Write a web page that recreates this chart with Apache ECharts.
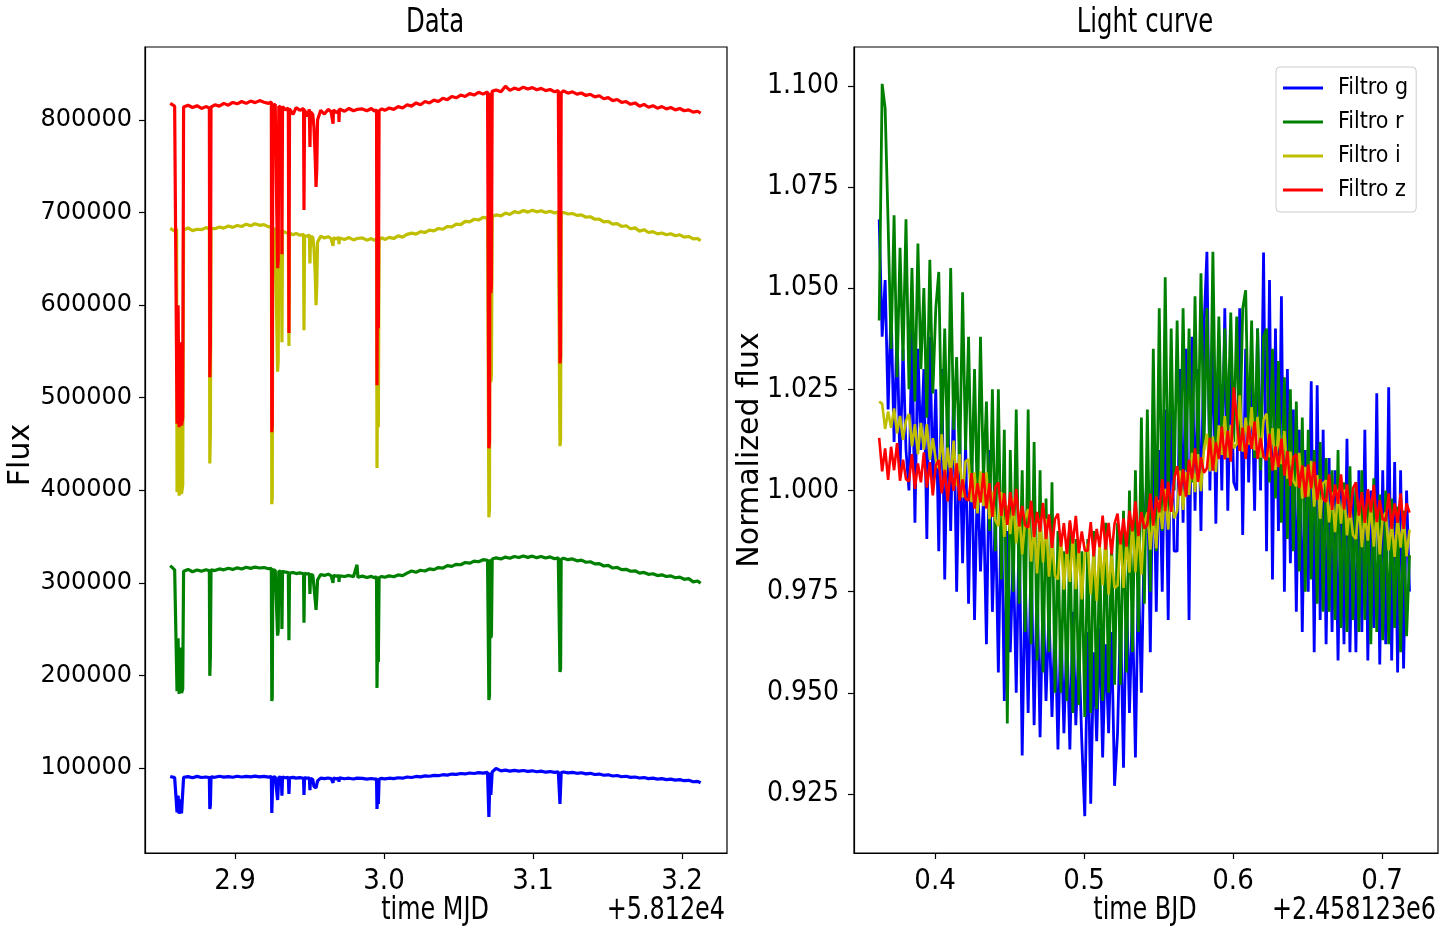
<!DOCTYPE html>
<html><head><meta charset="utf-8">
<script src="https://cdn.jsdelivr.net/npm/echarts@6/dist/echarts.min.js"></script>
<style>html,body{margin:0;padding:0;background:#fff;}#c{width:1454px;height:932px;}</style>
</head><body><div id="c"></div>
<script>
// ---------- Left panel: raw flux vs time MJD (offset +5.812e4) ----------
const mjdTime = [
2.8565,2.8595,2.8608,2.8611,2.8618,2.8625,2.8633,2.8641,2.8649,2.8655,
2.8685,2.8715,2.8745,2.8775,2.8805,2.8828,2.8831,2.8835,2.8839,2.8865,
2.8895,2.8925,2.8955,2.8985,2.9015,2.9045,2.9075,2.9105,2.9135,2.9165,
2.9195,2.9225,2.9244,2.9247,2.9250,2.9254,2.9270,2.9283,2.9286,2.9290,
2.9294,2.9311,2.9315,2.9319,2.9340,2.9358,2.9362,2.9366,2.9390,2.9410,
2.9435,2.9460,2.9463,2.9467,2.9485,2.9499,2.9503,2.9507,2.9522,2.9530,
2.9538,2.9544,2.9549,2.9554,2.9575,2.9600,2.9625,2.9645,2.9656,2.9658,
2.9661,2.9680,2.9696,2.9698,2.9701,2.9735,2.9765,2.9795,2.9819,2.9825,
2.9855,2.9885,2.9915,2.9935,2.9950,2.9953,2.9958,2.9962,2.9967,2.9985,
3.0005,3.0035,3.0065,3.0095,3.0125,3.0155,3.0185,3.0215,3.0245,3.0275,
3.0305,3.0335,3.0365,3.0395,3.0425,3.0455,3.0485,3.0515,3.0545,3.0575,
3.0605,3.0635,3.0665,3.0695,3.0701,3.0704,3.0708,3.0712,3.0717,3.0721,
3.0726,3.0752,3.0785,3.0815,3.0845,3.0875,3.0905,3.0935,3.0965,3.0995,
3.1025,3.1055,3.1085,3.1115,3.1145,3.1170,3.1178,3.1181,3.1185,3.1189,
3.1205,3.1235,3.1265,3.1295,3.1325,3.1355,3.1385,3.1415,3.1445,3.1475,
3.1505,3.1535,3.1565,3.1595,3.1625,3.1655,3.1685,3.1715,3.1745,3.1775,
3.1805,3.1835,3.1865,3.1895,3.1925,3.1955,3.1985,3.2015,3.2045,3.2075,
3.2105,3.2125];

const rawFluxZ = [
818000,815000,816500,472000,600000,468000,560000,470000,478000,814000,
816000,813500,815500,812500,814500,813000,522000,560000,814000,816500,
815000,818000,816000,819000,817500,820000,818000,820500,818800,821000,
819200,818000,819500,462700,470000,816000,817000,815500,640000,648000,
815000,813500,655000,814500,811000,813000,570000,812000,806000,813500,
810500,812500,702700,811000,804000,811500,770800,809000,806000,792000,
760000,727600,748000,800000,810500,806500,811500,809000,810500,796000,
811000,808000,810000,798000,812000,809500,812500,810000,811500,809500,
812000,810000,812500,809800,811000,513500,690000,575000,810000,812000,
810500,813000,811500,814500,813000,816500,815000,818500,816500,820000,
818500,821500,820000,823500,822000,825500,824000,827000,825500,828500,
827000,830000,828000,830500,829000,445400,452000,829500,613000,620000,
831000,832500,830500,836500,832000,834500,832800,835500,833500,835000,
832800,834200,831800,833000,830500,832000,830800,537000,545000,829500,
831500,829000,830500,828000,829200,826500,827800,825000,826200,823000,
824200,821000,822200,819000,820000,817000,818500,815000,816800,813800,
815500,812800,814500,812000,813500,811000,812500,810000,811000,808500,
809500,807500];

const rawFluxI = [
683000,680000,682500,398000,520000,394000,480000,396000,405000,681000,
683500,680500,682000,681500,683800,682200,429000,465000,683000,682600,
684500,683200,685500,684000,686000,685000,687500,685800,688000,686200,
687000,684500,685500,384900,392000,683000,682000,681000,528000,540000,
680500,679000,560000,680000,678500,677500,556000,678000,676000,677500,
675500,676500,573000,675000,674500,676000,645000,674000,673500,662000,
635000,600000,622000,668000,674500,672500,674000,672000,673000,664000,
672800,671500,673200,666000,672500,671000,673000,670500,672000,670800,
672600,670200,672000,670000,671500,424000,560000,468000,670500,672800,
671000,673200,672000,674800,673500,676500,677800,676800,679500,678500,
681000,680200,682800,682000,685000,684500,687500,687000,690500,690000,
692800,692000,694800,694000,695500,370800,380000,696000,516800,525000,
695800,697500,696500,699500,698000,701000,699800,702200,700500,702500,
700800,702000,700000,701500,699500,700800,699800,447600,455000,699000,
700200,698500,699000,697000,697500,695000,695500,692800,693000,690000,
690500,687500,688000,685000,685800,682500,683500,680000,681500,678500,
679500,677000,678000,676000,677200,675000,676000,673500,674200,671500,
672000,669500];

const rawFluxR = [
318500,314000,313500,183000,240000,180000,230000,181000,185000,312500,
314500,312000,313800,312600,314200,313000,199500,222000,314000,313200,
315000,314000,315800,314500,316200,315000,316800,315600,317000,316000,
316500,315200,315800,172400,176000,314000,313500,313000,243000,248000,
312800,312000,250000,312500,311500,311000,238000,310500,311200,310000,
310800,309800,256800,310200,309500,310000,288000,309000,308500,296000,
282000,270800,285000,303000,309000,308000,309200,307800,308500,300000,
308200,307000,308000,301000,307600,306800,308000,306500,319500,306000,
307200,305800,307000,305500,306500,186500,255000,214600,305800,306800,
306000,307500,306500,308500,307800,310500,312800,311500,313600,312800,
315000,314200,316500,315800,318500,317800,320000,319500,322000,321200,
323500,322800,325000,324200,325200,173500,178000,325500,240500,244000,
325800,327000,325800,327800,326500,328500,327300,329000,327500,328800,
327200,328400,326800,328000,326000,327000,326200,203800,207000,325500,
326500,325000,325800,323800,324500,322200,322800,320500,320800,318200,
318800,316000,316600,314200,314600,312500,313000,310500,311200,309200,
309800,307800,308600,306800,307500,305500,306200,303800,304500,301000,
302000,299500];

const rawFluxG = [
90800,89500,90500,52000,70000,50500,66000,51000,53000,89800,
90600,89400,90900,89700,90200,89600,55700,60000,90400,89900,
91000,90100,90700,89900,91000,90200,90900,90400,91200,90300,
90900,90000,90600,51400,52500,89800,90300,89700,65400,67000,
90000,89500,70000,90100,89400,89900,71900,89300,89800,89000,
89600,88900,70800,89500,88800,89300,76000,88600,87500,80000,
78800,78400,80500,86000,89000,88400,89100,88500,88900,84000,
89000,88200,88800,85000,89200,88300,88900,88000,89000,88400,
88800,87900,88600,88000,88300,55700,74000,61000,88000,88700,
88100,88900,88400,89400,88900,90200,89700,90800,90300,91400,
91000,92000,91600,92700,92300,93400,93000,94000,93500,94500,
94000,95000,94400,95200,94700,47000,49000,95000,70800,72000,
95600,99500,96800,97600,96500,97400,96600,97200,96300,96900,
95900,96500,95400,96100,95200,95800,95300,61000,62500,95000,
95600,94700,95200,94200,94800,93600,94200,92900,93400,92100,
92600,91300,91800,90500,91000,89800,90200,89100,89600,88500,
89000,87900,88400,87400,87900,86900,87400,86200,86600,85100,
85500,84000];

// ---------- Right panel: normalized flux vs time BJD (offset +2.458123e6) ----------
const bjdTime = [
0.3625,0.3645,0.3665,0.3685,0.3705,0.3725,0.3745,0.3765,0.3785,0.3805,
0.3825,0.3845,0.3865,0.3885,0.3905,0.3925,0.3945,0.3965,0.3985,0.4005,
0.4025,0.4045,0.4065,0.4085,0.4105,0.4125,0.4145,0.4165,0.4185,0.4205,
0.4225,0.4245,0.4265,0.4285,0.4305,0.4325,0.4345,0.4365,0.4385,0.4405,
0.4425,0.4445,0.4465,0.4485,0.4505,0.4525,0.4545,0.4565,0.4585,0.4605,
0.4625,0.4645,0.4665,0.4685,0.4705,0.4725,0.4745,0.4765,0.4785,0.4805,
0.4825,0.4845,0.4865,0.4885,0.4905,0.4925,0.4945,0.4965,0.4985,0.5005,
0.5025,0.5045,0.5065,0.5085,0.5105,0.5125,0.5145,0.5165,0.5185,0.5205,
0.5225,0.5245,0.5265,0.5285,0.5305,0.5325,0.5345,0.5365,0.5385,0.5405,
0.5425,0.5445,0.5465,0.5485,0.5505,0.5525,0.5545,0.5565,0.5585,0.5605,
0.5625,0.5645,0.5665,0.5685,0.5705,0.5725,0.5745,0.5765,0.5785,0.5805,
0.5825,0.5845,0.5865,0.5885,0.5905,0.5925,0.5945,0.5965,0.5985,0.6005,
0.6025,0.6045,0.6065,0.6085,0.6105,0.6125,0.6145,0.6165,0.6185,0.6205,
0.6225,0.6245,0.6265,0.6285,0.6305,0.6325,0.6345,0.6365,0.6385,0.6405,
0.6425,0.6445,0.6465,0.6485,0.6505,0.6525,0.6545,0.6565,0.6585,0.6605,
0.6625,0.6645,0.6665,0.6685,0.6705,0.6725,0.6745,0.6765,0.6785,0.6805,
0.6825,0.6845,0.6865,0.6885,0.6905,0.6925,0.6945,0.6965,0.6985,0.7005,
0.7025,0.7045,0.7065,0.7085,0.7105,0.7125,0.7145,0.7165,0.7185];

const normG = [
1.067,1.038,1.052,1.020,1.045,1.012,1.040,1.005,1.035,1.010,
1.000,1.040,0.992,1.035,1.010,1.030,0.988,1.038,1.002,1.025,
0.985,1.030,0.978,1.020,0.990,1.025,0.975,1.015,0.982,1.012,
0.972,1.012,0.968,1.005,0.980,0.998,0.962,1.010,0.970,0.995,
0.955,0.998,0.948,0.990,0.960,0.985,0.950,0.992,0.9345,0.980,
0.945,0.985,0.942,0.978,0.939,0.975,0.948,0.970,0.944,0.968,
0.936,0.968,0.940,0.965,0.936,0.970,0.942,0.962,0.938,0.9195,
0.965,0.9226,0.960,0.938,0.966,0.934,0.962,0.940,0.965,0.927,
0.940,0.970,0.9315,0.975,0.945,0.972,0.934,0.980,0.950,0.990,
1.006,0.960,1.015,0.970,1.010,0.975,1.020,0.968,1.025,0.985,
0.985,1.030,0.992,1.035,0.968,1.038,0.995,1.030,0.990,1.040,
1.059,1.000,1.040,0.9918,1.035,1.000,1.045,0.995,1.030,1.002,
1.000,1.045,0.989,1.035,1.002,1.030,0.995,1.040,1.000,1.0588,
0.985,1.052,0.978,1.040,0.990,1.048,0.975,1.030,0.982,1.020,
0.970,1.015,0.965,1.010,0.975,1.027,0.960,1.026,0.968,1.015,
0.962,1.008,0.965,1.005,0.958,1.002,0.962,1.0128,0.960,1.000,
0.960,1.005,0.965,1.015,0.958,1.000,0.966,1.024,0.957,1.005,
0.962,1.0255,0.958,1.007,0.955,1.005,0.956,1.000,0.975];

const normR = [
1.042,1.1005,1.0945,1.066,1.035,1.068,1.028,1.060,1.032,1.067,
1.025,1.055,1.022,1.061,1.030,1.050,1.018,1.057,1.024,1.045,
1.054,1.012,1.040,1.008,1.055,1.015,1.033,1.005,1.049,1.010,
1.038,1.000,1.030,0.995,1.038,1.002,1.022,0.990,1.025,0.985,
1.025,0.978,1.015,0.9424,1.010,0.975,1.020,0.972,1.005,0.965,
1.020,0.962,1.012,0.958,1.005,0.955,0.998,0.960,1.002,0.950,
0.990,0.950,0.985,0.948,0.992,0.945,0.988,0.947,0.985,0.944,
0.988,0.945,0.990,0.946,0.985,0.948,0.992,0.950,0.988,0.952,
0.992,0.952,0.995,0.955,1.000,0.960,1.005,0.965,1.018,0.972,
1.020,0.975,1.035,0.985,1.045,0.990,1.0527,0.995,1.040,1.000,
1.042,1.000,1.045,1.005,1.040,1.002,1.048,1.008,1.0537,1.010,
1.045,1.008,1.059,1.010,1.043,1.012,1.040,1.015,1.044,1.012,
1.043,1.010,1.045,1.0495,1.012,1.042,1.008,1.040,1.005,1.038,
1.040,1.002,1.035,0.998,1.032,0.992,1.028,0.988,1.025,0.985,
1.022,0.980,1.018,0.975,1.015,0.978,1.010,0.972,1.012,0.970,
1.008,0.970,1.005,0.968,1.010,0.966,1.002,0.965,1.006,0.968,
1.002,0.965,1.005,0.968,0.998,0.962,1.003,0.965,0.999,0.963,
1.000,0.962,0.998,0.966,0.996,0.960,0.995,0.964,0.984];

const normI = [
1.0220,1.0214,1.0152,1.0195,1.0155,1.0203,1.0141,1.0184,1.0125,1.0173,
1.0189,1.0109,1.0164,1.0089,1.0167,1.0101,1.0164,1.0076,1.0129,1.0075,
1.0055,1.0139,1.0027,1.0106,1.0034,1.0123,1.0011,1.0090,0.9983,1.0072,
1.0077,0.9971,1.0045,0.9943,1.0047,0.9961,1.0045,0.9929,0.9997,0.9926,
0.9912,0.9996,0.9885,0.9963,0.9892,0.9981,0.9870,0.9949,0.9842,0.9931,
0.9954,0.9824,0.9919,0.9795,0.9928,0.9822,0.9930,0.9787,0.9876,0.9790,
0.9780,0.9890,0.9755,0.9859,0.9774,0.9890,0.9756,0.9859,0.9731,0.9847,
0.9867,0.9743,0.9844,0.9727,0.9866,0.9766,0.9880,0.9743,0.9839,0.9759,
0.9765,0.9885,0.9759,0.9873,0.9797,0.9923,0.9798,0.9911,0.9792,0.9918,
0.9945,0.9854,0.9943,0.9857,0.9976,0.9905,1.0004,0.9903,0.9987,0.9931,
0.9950,1.0049,0.9952,1.0046,0.9989,1.0093,0.9996,1.0090,0.9998,1.0102,
1.0140,1.0047,1.0133,1.0045,1.0161,1.0088,1.0184,1.0081,1.0162,1.0104,
1.0115,1.0235,1.0096,1.0180,1.0113,1.0206,1.0099,1.0182,1.0081,1.0174,
1.0190,1.0082,1.0154,1.0051,1.0153,1.0065,1.0147,1.0029,1.0096,1.0023,
1.0010,1.0093,0.9980,1.0058,0.9985,1.0073,0.9960,1.0038,0.9930,1.0018,
1.0025,0.9921,0.9996,0.9897,1.0002,0.9918,1.0003,0.9889,0.9959,0.9890,
0.9880,0.9968,0.9860,0.9943,0.9876,0.9968,0.9861,0.9944,0.9842,0.9934,
0.9945,0.9852,0.9923,0.9836,0.9933,0.9859,0.9938,0.9837,0.9903];

const normZ = [
1.0130,1.0047,1.0104,1.0026,1.0108,1.0050,1.0117,1.0024,1.0076,1.0028,
1.0022,1.0090,1.0004,1.0067,1.0020,1.0094,1.0007,1.0070,0.9988,1.0062,
1.0075,0.9993,1.0051,0.9973,1.0056,0.9999,1.0067,0.9975,1.0027,0.9980,
0.9975,1.0043,0.9955,1.0018,0.9970,1.0043,0.9955,1.0018,0.9935,1.0008,
1.0020,0.9937,0.9993,0.9915,0.9996,0.9938,1.0004,0.9911,0.9962,0.9914,
0.9908,0.9974,0.9885,0.9947,0.9898,0.9969,0.9880,0.9941,0.9858,0.9929,
0.9943,0.9861,0.9919,0.9843,0.9926,0.9869,0.9937,0.9845,0.9899,0.9852,
0.9851,0.9922,0.9837,0.9905,0.9860,0.9938,0.9854,0.9920,0.9842,0.9918,
0.9943,0.9867,0.9931,0.9861,0.9950,0.9899,0.9973,0.9887,0.9947,0.9906,
0.9915,0.9992,0.9913,0.9985,0.9946,1.0028,0.9949,1.0021,0.9947,1.0029,
1.0060,0.9987,1.0053,0.9985,1.0076,1.0028,1.0104,1.0021,1.0082,1.0044,
1.0055,1.0130,1.0049,1.0119,1.0078,1.0158,1.0077,1.0147,1.0071,1.0255,
1.0180,1.0098,1.0155,1.0078,1.0160,1.0103,1.0170,1.0078,1.0130,1.0083,
1.0075,1.0140,1.0049,1.0109,1.0058,1.0128,1.0037,1.0097,1.0011,1.0081,
1.0090,1.0006,1.0062,0.9983,1.0064,1.0005,1.0071,0.9977,1.0028,0.9979,
0.9972,1.0040,0.9952,1.0015,0.9967,1.0040,0.9953,1.0015,0.9933,1.0005,
1.0020,0.9938,0.9996,0.9920,1.0003,0.9946,1.0014,0.9922,0.9976,0.9929,
0.9925,0.9993,0.9905,0.9968,0.9920,0.9993,0.9905,0.9968,0.9945];

// ---------- ticks / labels ----------
const leftXTicks = [2.9, 3.0, 3.1, 3.2];
const leftYTicks = [100000, 200000, 300000, 400000, 500000, 600000, 700000, 800000];
const rightXTicks = [0.4, 0.5, 0.6, 0.7];
const rightYTicks = [0.925, 0.950, 0.975, 1.000, 1.025, 1.050, 1.075, 1.100];
const legendNames = ['Filtro g', 'Filtro r', 'Filtro i', 'Filtro z'];
const filterColors = ['#0000ff', '#008000', '#bfbf00', '#ff0000'];
const rightWidths = [2.8, 2.8, 2.6, 2.6];

const COND = "'DejaVu Sans Condensed', 'Liberation Sans Narrow', 'DejaVu Sans', sans-serif";
const DEJAVU = "'DejaVu Sans', sans-serif";

function pairs(xs, ys) { return xs.map((x, i) => [x, ys[i]]); }

function xAxisCfg(grid, min, max, ticks, dec) {
  return {
    gridIndex: grid, type: 'value', min: min, max: max,
    axisLine: { show: true, onZero: false, lineStyle: { color: '#000', width: 1.2 } },
    axisTick: { show: true, length: 6, customValues: ticks, lineStyle: { color: '#000', width: 1.2 } },
    axisLabel: { customValues: ticks, formatter: v => Number(v).toFixed(dec),
      fontFamily: COND, fontSize: 29, color: '#000', margin: 14 },
    splitLine: { show: false }
  };
}
function yAxisCfg(grid, min, max, ticks, fmt, fam, size, margin) {
  return {
    gridIndex: grid, type: 'value', min: min, max: max,
    axisLine: { show: true, onZero: false, lineStyle: { color: '#000', width: 1.2 } },
    axisTick: { show: true, length: 6, customValues: ticks, lineStyle: { color: '#000', width: 1.2 } },
    axisLabel: { customValues: ticks, formatter: fmt, fontFamily: fam, fontSize: size, color: '#000', margin: margin },
    splitLine: { show: false }
  };
}

const leftSeries = [
  ['Data g', rawFluxG, filterColors[0]],
  ['Data r', rawFluxR, filterColors[1]],
  ['Data i', rawFluxI, filterColors[2]],
  ['Data z', rawFluxZ, filterColors[3]]
].map(([n, ys, c]) => ({
  name: n, type: 'line', xAxisIndex: 0, yAxisIndex: 0, data: pairs(mjdTime, ys),
  showSymbol: false, symbol: 'none', lineStyle: { color: c, width: 3.2 }, itemStyle: { color: c }
}));

const rightSeries = [normG, normR, normI, normZ].map((ys, k) => ({
  name: legendNames[k], type: 'line', xAxisIndex: 1, yAxisIndex: 1, data: pairs(bjdTime, ys),
  showSymbol: false, symbol: 'none', lineStyle: { color: filterColors[k], width: rightWidths[k] }, itemStyle: { color: filterColors[k] }
}));

function txt(text, x, y, font, align, rot, sx) {
  return { type: 'text', x: x, y: y, rotation: rot || 0, scaleX: sx || 1, silent: true,
    style: { text: text, font: font, fill: '#000', align: align, textAlign: align,
      verticalAlign: 'middle', textVerticalAlign: 'middle' } };
}

const option = {
  animation: false,
  backgroundColor: '#fff',
  grid: [
    { left: 145, top: 47, width: 582, height: 806, show: true, borderColor: '#000', borderWidth: 1.2, containLabel: false },
    { left: 854, top: 47, width: 584, height: 806, show: true, borderColor: '#000', borderWidth: 1.2, containLabel: false }
  ],
  xAxis: [
    xAxisCfg(0, 2.8396, 3.2302, leftXTicks, 1),
    xAxisCfg(1, 0.3456, 0.7376, rightXTicks, 1)
  ],
  yAxis: [
    yAxisCfg(0, 8100, 878900, leftYTicks, v => Number(v).toFixed(0), DEJAVU, 24, 13),
    yAxisCfg(1, 0.9104, 1.1096, rightYTicks, v => Number(v).toFixed(3), COND, 28, 15)
  ],
  legend: {
    data: legendNames, left: 1276, top: 67, orient: 'vertical', selectedMode: false,
    backgroundColor: 'rgba(255,255,255,0.8)', borderColor: '#cccccc', borderWidth: 1, borderRadius: 4,
    padding: [7, 8, 8, 7], itemWidth: 40, itemHeight: 3, itemGap: 6, icon: 'rect',
    textStyle: { fontFamily: COND, fontSize: 23, color: '#000', lineHeight: 28, padding: [0, 0, 0, 10] }
  },
  graphic: [
    txt('Data', 435, 23, '33px ' + COND, 'center', 0, 0.82),
    txt('Light curve', 1145, 23, '33px ' + COND, 'center', 0, 0.82),
    txt('time MJD', 435, 911, '32px ' + COND, 'center', 0, 0.83),
    txt('+5.812e4', 725, 911, '32px ' + COND, 'right', 0, 0.83),
    txt('time BJD', 1145, 911, '32px ' + COND, 'center', 0, 0.83),
    txt('+2.458123e6', 1436, 911, '32px ' + COND, 'right', 0, 0.83),
    txt('Flux', 21, 455, '30px ' + DEJAVU, 'center', Math.PI / 2),
    txt('Normalized flux', 750, 450, '30px ' + DEJAVU, 'center', Math.PI / 2)
  ],
  series: leftSeries.concat(rightSeries)
};

const chart = echarts.init(document.getElementById('c'), null, { renderer: 'canvas' });
chart.setOption(option);
</script>
</body></html>
